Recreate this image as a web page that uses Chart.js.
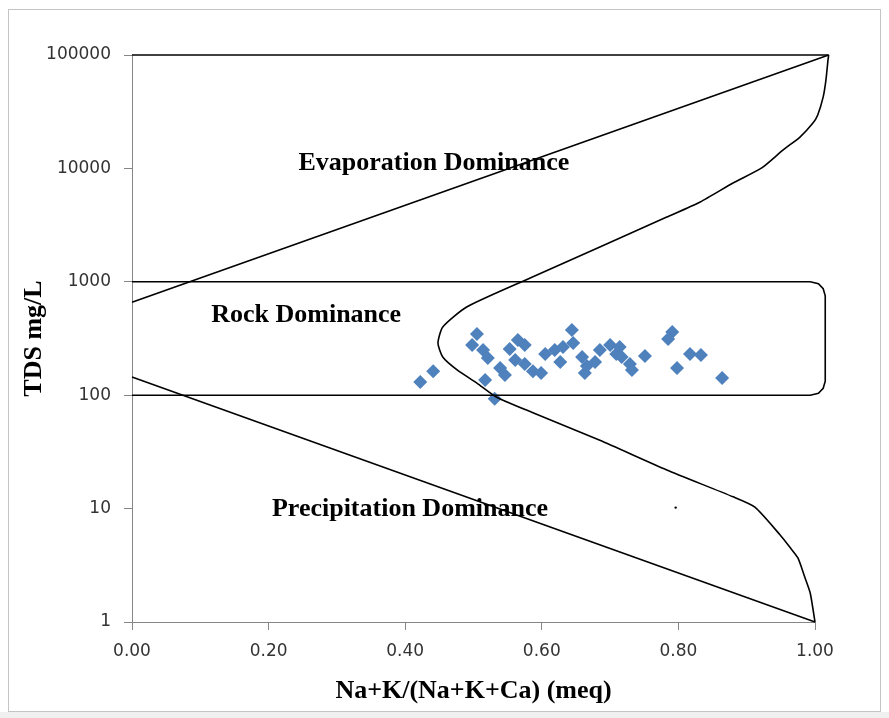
<!DOCTYPE html>
<html>
<head>
<meta charset="utf-8">
<script src="https://cdn.jsdelivr.net/npm/chart.js@4.4.0/dist/chart.umd.min.js"></script>
<style>
    html, body { margin: 0; padding: 0; background: #fff; }
    #wrap { width: 889px; height: 718px; position: relative; }
</style>
</head>
<body>
<div id="wrap"><canvas id="gibbsChart"></canvas></div>
<script>
// samples: Na+K/(Na+K+Ca) ratio and TDS (mg/L)
const sampleRatio = [0.422, 0.441, 0.505, 0.498, 0.514, 0.521, 0.517, 0.531, 0.539, 0.553, 0.565, 0.575, 0.575, 0.587,
    0.599, 0.605, 0.619, 0.631, 0.644, 0.646, 0.659, 0.663, 0.666, 0.685, 0.700, 0.709, 0.717, 0.729, 0.732, 0.751,
    0.714, 0.791, 0.785, 0.798, 0.817, 0.833, 0.864, 0.561, 0.546, 0.627, 0.678];
const sampleTDS = [131, 163, 347, 277, 251, 213, 136, 93, 174, 255, 307, 277, 188, 163,
    157, 231, 251, 266, 376, 288, 217, 157, 181, 251, 277, 231, 217, 188, 167, 222,
    266, 361, 313, 174, 231, 226, 142, 204, 151, 196, 196];

// Gibbs boundary lines
const upperLineX = [0, 1.02];
const upperLineY = [660, 100000];
const lowerLineX = [0, 1.0];
const lowerLineY = [145, 1];
const topLineX = [0, 1.02];
const topLineY = [100000, 100000];
const curveX = [1.02, 1.019, 1.016, 1.012, 1.004, 0.997, 0.978, 0.953, 0.922, 0.88, 0.832, 0.783, 0.685, 0.583,
    0.49, 0.455, 0.448, 0.455, 0.476, 0.505, 0.534, 0.587, 0.685, 0.783, 0.88, 0.912, 0.949, 0.963, 0.975, 0.985, 0.993, 1.0];
const curveY = [100000, 90000, 60000, 42700, 29600, 25100, 18900, 14500, 10100, 7430, 5060, 3720, 2030, 1080,
    600, 400, 288, 217, 167, 128, 96, 70, 40, 21.9, 12.7, 10.3, 5.85, 4.58, 3.67, 2.49, 1.8, 1];
const rockBoxX = [0, 0.993, 1.005, 1.012, 1.015, 1.015, 1.012, 1.005, 0.993, 0];
const rockBoxY = [1000, 1000, 962, 869, 753, 133, 115, 104, 100, 100];
const strayX = [0.796];
const strayY = [10.2];

const xTicks = [0, 0.2, 0.4, 0.6, 0.8, 1.0];
const yTicks = [1, 10, 100, 1000, 10000, 100000];

const regionNames = ["Evaporation Dominance", "Rock Dominance", "Precipitation Dominance"];
const regionX = [0.442, 0.255, 0.407];
const regionY = [11200, 509, 9.9];

const xTitle = "Na+K/(Na+K+Ca) (meq)";
const yTitle = "TDS mg/L";

function pts(xs, ys) {
    return xs.map((x, i) => ({ x: x, y: ys[i] }));
}

function lineSet(xs, ys, tension) {
    return {
        data: pts(xs, ys),
        showLine: true,
        borderColor: "#000",
        borderWidth: 1.6,
        pointRadius: 0,
        tension: tension || 0,
        clip: false
    };
}

const labelsPlugin = {
    id: "labelsPlugin",
    beforeDraw(chart) {
        const ctx = chart.ctx;
        ctx.save();
        ctx.fillStyle = "#fff";
        ctx.fillRect(0, 0, chart.width, chart.height);
        ctx.fillStyle = "#f0f0f0";
        ctx.fillRect(0, 712, chart.width, chart.height - 712);
        ctx.strokeStyle = "#c4c4c4";
        ctx.lineWidth = 1;
        ctx.strokeRect(8.5, 9.5, 872, 702);
        ctx.restore();
    },
    afterDatasetsDraw(chart) {
        const ctx = chart.ctx;
        const xs = chart.scales.x;
        const ys = chart.scales.y;
        ctx.save();
        ctx.fillStyle = "#000";
        ctx.font = 'bold 26px "Liberation Serif"';
        ctx.textAlign = "center";
        ctx.textBaseline = "middle";
        regionNames.forEach((name, i) => {
            ctx.fillText(name, xs.getPixelForValue(regionX[i]), ys.getPixelForValue(regionY[i]));
        });
        ctx.fillText(xTitle, (xs.left + xs.right) / 2, 691);
        ctx.translate(34, (ys.top + ys.bottom) / 2);
        ctx.rotate(-Math.PI / 2);
        ctx.fillText(yTitle, 0, 0);
        ctx.restore();
    }
};

const axisGrid = {
    drawOnChartArea: false,
    drawTicks: true,
    tickLength: 8,
    color: "#868686"
};

new Chart(document.getElementById("gibbsChart"), {
    type: "scatter",
    data: {
        datasets: [
            lineSet(topLineX, topLineY),
            lineSet(upperLineX, upperLineY),
            lineSet(lowerLineX, lowerLineY),
            lineSet(curveX, curveY, 0.2),
            lineSet(rockBoxX, rockBoxY),
            {
                data: pts(strayX, strayY),
                pointRadius: 1.2,
                backgroundColor: "#000",
                borderWidth: 0
            },
            {
                data: pts(sampleRatio, sampleTDS),
                pointStyle: "rectRot",
                pointRadius: 7,
                backgroundColor: "#4F81BD",
                borderWidth: 0
            }
        ]
    },
    options: {
        responsive: true,
        maintainAspectRatio: false,
        animation: false,
        layout: { padding: { top: 55, right: 74, left: 0, bottom: 0 } },
        plugins: {
            legend: { display: false },
            tooltip: { enabled: false }
        },
        scales: {
            x: {
                type: "linear",
                min: 0,
                max: 1,
                afterBuildTicks: scale => { scale.ticks = xTicks.map(v => ({ value: v })); },
                afterFit: scale => { scale.height = 96; },
                ticks: {
                    callback: v => Number(v).toFixed(2),
                    color: "#333",
                    font: { family: "DejaVu Sans", size: 17 },
                    padding: 11
                },
                grid: axisGrid,
                border: { color: "#868686", width: 1 }
            },
            y: {
                type: "logarithmic",
                min: 1,
                max: 100000,
                afterBuildTicks: scale => { scale.ticks = yTicks.map(v => ({ value: v })); },
                afterFit: scale => { scale.width = 132; },
                ticks: {
                    callback: v => String(v),
                    color: "#333",
                    font: { family: "DejaVu Sans", size: 17 },
                    padding: 13
                },
                grid: axisGrid,
                border: { color: "#868686", width: 1 }
            }
        }
    },
    plugins: [labelsPlugin]
});
</script>
</body>
</html>
